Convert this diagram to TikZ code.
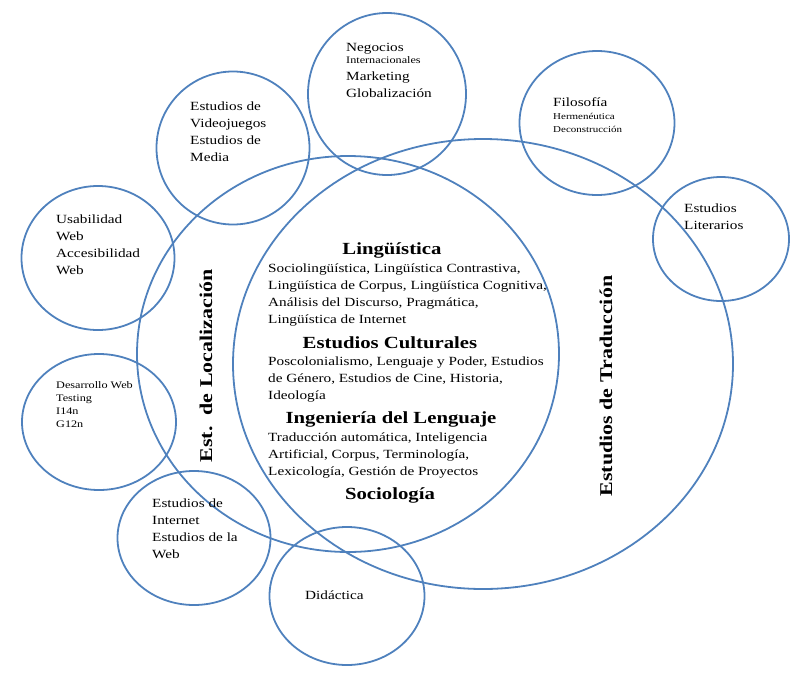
\documentclass[tikz,border=0pt]{standalone}
\usepackage{fontspec}
\setmainfont{Liberation Serif}[FakeStretch=1.22]
\usetikzlibrary{shapes.geometric}
\usetikzlibrary{positioning}

\tikzset{
	ring/.style={draw=ringblue, line width=1.8pt, ellipse, inner sep=0pt},
	txt/.style={anchor=north west, align=left, inner sep=0pt, font=\fontsize{12.5}{17}\selectfont},
	small/.style={anchor=north west, align=left, inner sep=0pt, font=\fontsize{10}{13}\selectfont},
	head/.style={inner sep=0pt, font=\fontsize{17}{20}\selectfont\bfseries},
	side/.style={inner sep=0pt, rotate=90, font=\fontsize{18}{20}\selectfont\bfseries},
}
\definecolor{ringblue}{HTML}{4F81BD}

\begin{document}
\begin{tikzpicture}[x=1pt,y=-1pt]
	\useasboundingbox (0,0) rectangle (809,681);
	% circulos grandes
	% ----------------
	\node[ring, minimum width=422, minimum height=396] (loc) at (348,354) {};
	\node[ring, minimum width=500, minimum height=450] (trad) at (483,364) {};
	
	% circulos pequenos
	\node[ring, minimum width=158, minimum height=162] (neg) at (387,94) {};
	\node[ring, minimum width=153, minimum height=153] (video) at (233,148) {};
	\node[ring, minimum width=155, minimum height=144] (filo) at (597,123) {};
	\node[ring, minimum width=136, minimum height=124] (lit) at (721,239) {};
	\node[ring, minimum width=153, minimum height=144] (usab) at (98,258) {};
	\node[ring, minimum width=154, minimum height=136] (desa) at (99,422) {};
	\node[ring, minimum width=153, minimum height=134] (inet) at (194,538) {};
	\node[ring, minimum width=155, minimum height=138] (dida) at (347,596) {};
	
	% textos de los circulos
	\node[txt] (negT) at (346,43) {Negocios\\[-5pt]{\fontsize{10}{13}\selectfont Internacionales}\\Marketing\\Globalización};
	\node[txt] (videoT) at (190,102) {Estudios de\\Videojuegos\\Estudios de\\Media};
	\node[txt] (filoT) at (553,97) {Filosofía\\[-4pt]{\fontsize{9}{11}\selectfont Hermenéutica}\\[-4pt]{\fontsize{9}{11}\selectfont Deconstrucción}};
	\node[txt] (litT) at (684,204) {Estudios\\Literarios};
	\node[txt] (usabT) at (56,215) {Usabilidad\\Web\\Accesibilidad\\Web};
	\node[small] (desaT) at (56,381) {Desarrollo Web\\Testing\\I14n\\G12n};
	\node[txt] (inetT) at (152,499) {Estudios de\\Internet\\Estudios de la\\Web};
	\node[txt] (didaT) at (305,591) {Didáctica};
	
	% centro
	\node[head] (ling) at (392,250) {Lingüística};
	\node[txt] (lingT) at (268,264) {Sociolingüística, Lingüística Contrastiva,\\Lingüística de Corpus, Lingüística Cognitiva,\\Análisis del Discurso, Pragmática,\\Lingüística de Internet};
	\node[head] (cult) at (390,343) {Estudios Culturales};
	\node[txt] (cultT) at (268,357) {Poscolonialismo, Lenguaje y Poder, Estudios\\de Género, Estudios de Cine, Historia,\\Ideología};
	\node[head] (inge) at (391,419) {Ingeniería del Lenguaje};
	\node[txt] (ingeT) at (268,433) {Traducción automática, Inteligencia\\Artificial, Corpus, Terminología,\\Lexicología, Gestión de Proyectos};
	\node[head] (soci) at (390,495) {Sociología};
	
	% rotulos verticales
	\node[side] (locT) at (206,366) {Est.\ \ de Localización};
	\node[side] (tradT) at (606,386) {Estudios de Traducción};
\end{tikzpicture}
\end{document}
